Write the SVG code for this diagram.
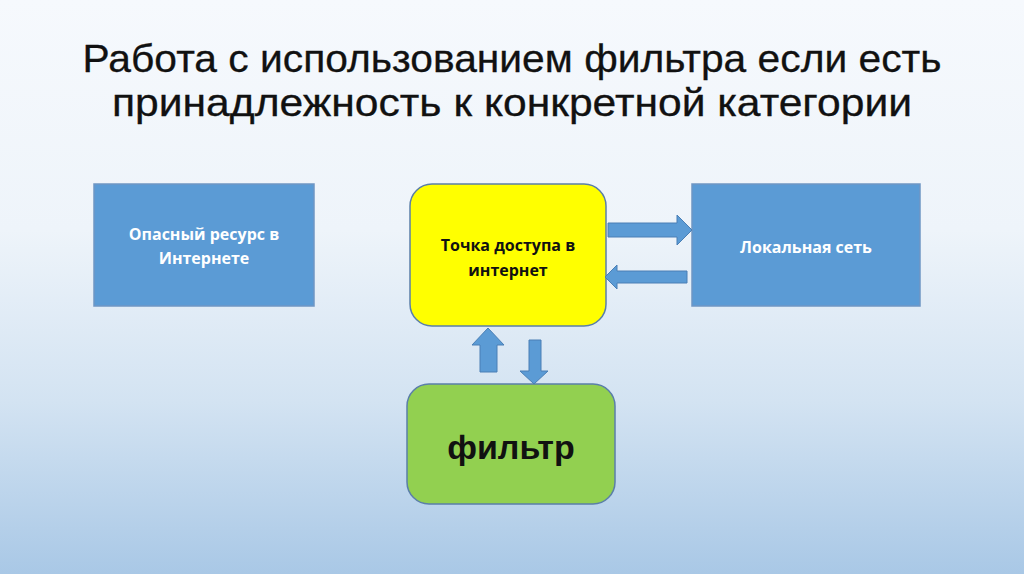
<svg xmlns="http://www.w3.org/2000/svg" width="1024" height="574" viewBox="0 0 1024 574">
<defs>
<linearGradient id="bg" x1="0" y1="0" x2="0" y2="1">
<stop offset="0" stop-color="#f6f9fd"/>
<stop offset="0.4" stop-color="#eef4fa"/>
<stop offset="0.7" stop-color="#d3e3f2"/>
<stop offset="1" stop-color="#a9c8e6"/>
</linearGradient>
<style>
.title{font-family:"Liberation Sans",Arial,sans-serif;font-size:39px;fill:#111;text-anchor:middle;stroke:#111;stroke-width:0.3}
.box{fill:#5b9bd5;stroke:#6f96c4;stroke-width:1.5}
.wt{font-family:"Open Sans","Liberation Sans",sans-serif;font-weight:bold;font-size:16px;fill:#ffffff;text-anchor:middle}
.bt{font-family:"Open Sans","Liberation Sans",sans-serif;font-weight:bold;font-size:16px;fill:#111;text-anchor:middle}
.arr{fill:#5b9bd5;stroke:#4a7fb5;stroke-width:1}
</style>
</defs>
<rect width="1024" height="574" fill="url(#bg)"/>
<g id="title">
<text class="title"><tspan x="512" y="72" textLength="859" lengthAdjust="spacingAndGlyphs">Работа с использованием фильтра если есть</tspan><tspan x="512" y="116" textLength="800" lengthAdjust="spacingAndGlyphs">принадлежность к конкретной категории</tspan></text>
</g>
<g id="danger">
<rect class="box" x="94" y="184" width="220" height="122"/>
<text class="wt"><tspan x="204" y="240">Опасный ресурс в</tspan><tspan x="204" y="264">Интернете</tspan></text>
</g>
<g id="access">
<rect x="410" y="184" width="196" height="142" rx="22" fill="#ffff00" stroke="#5b7fa8" stroke-width="1.5"/>
<text class="bt"><tspan x="508" y="251">Точка доступа в</tspan><tspan x="508" y="276">интернет</tspan></text>
</g>
<g id="lan">
<rect class="box" x="692" y="184" width="228" height="122"/>
<text class="wt" x="806" y="253">Локальная сеть</text>
</g>
<g id="filter">
<rect x="407" y="384" width="208" height="120" rx="22" fill="#92d050" stroke="#5b7fa8" stroke-width="1.5"/>
<text x="511" y="459" font-family="'Liberation Sans',Arial,sans-serif" font-weight="bold" font-size="34" fill="#111" text-anchor="middle">фильтр</text>
</g>
<g id="connectors">
<polygon class="arr" points="608,223 677,223 677,215 692,230 677,245 677,237 608,237"/>
<polygon class="arr" points="687,271 617,271 617,265 605,277 617,289 617,283 687,283"/>
<polygon class="arr" points="480,372 480,345 472,345 488,328 504,345 497,345 497,372"/>
<polygon class="arr" points="529,340 541,340 541,371 548,371 534,384 520,371 529,371"/>
</g>
</svg>
